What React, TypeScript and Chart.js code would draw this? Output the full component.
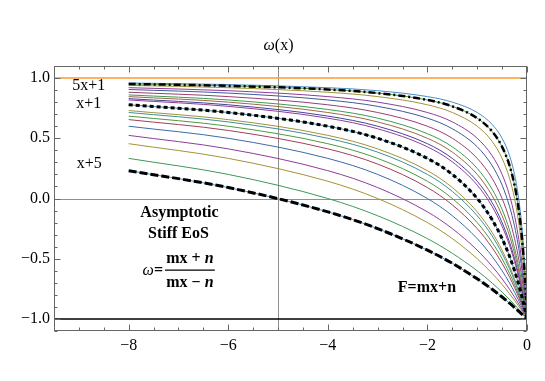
import React, { useEffect, useRef } from "react";
import { Chart, registerables } from "chart.js";

Chart.register(...registerables);

// ---------- data ----------
const xSamples = [-8, -6, -4, -3, -2, -1.5, -1, -0.7, -0.5, -0.35, -0.25, -0.18, -0.12, -0.08, -0.05, -0.025, 0];

// ω(x) for F = m x + n, one array per (m, n)
const w_1_5 = [0.231, 0.091, -0.111, -0.25, -0.429, -0.538, -0.667, -0.754, -0.818, -0.869, -0.905, -0.931, -0.953, -0.969, -0.98, -0.99, -1];
const w_1_4 = [0.333, 0.2, 0, -0.143, -0.333, -0.455, -0.6, -0.702, -0.778, -0.839, -0.882, -0.914, -0.942, -0.961, -0.975, -0.988, -1];
const w_1_3 = [0.455, 0.333, 0.143, 0, -0.2, -0.333, -0.5, -0.622, -0.714, -0.791, -0.846, -0.887, -0.923, -0.948, -0.967, -0.983, -1];
const w_2_5 = [0.524, 0.412, 0.231, 0.091, -0.111, -0.25, -0.429, -0.563, -0.667, -0.754, -0.818, -0.866, -0.908, -0.938, -0.961, -0.98, -1];
const w_1_2 = [0.6, 0.5, 0.333, 0.2, 0, -0.143, -0.333, -0.481, -0.6, -0.702, -0.778, -0.835, -0.887, -0.923, -0.951, -0.975, -1];
const w_3_5 = [0.655, 0.565, 0.412, 0.286, 0.091, -0.053, -0.25, -0.408, -0.538, -0.653, -0.739, -0.805, -0.866, -0.908, -0.942, -0.97, -1];
const w_2_3 = [0.684, 0.6, 0.455, 0.333, 0.143, 0, -0.2, -0.364, -0.5, -0.622, -0.714, -0.786, -0.852, -0.899, -0.935, -0.967, -1];
const w_3_4 = [0.714, 0.636, 0.5, 0.385, 0.2, 0.059, -0.143, -0.311, -0.455, -0.584, -0.684, -0.762, -0.835, -0.887, -0.928, -0.963, -1];
const w_4_5 = [0.73, 0.655, 0.524, 0.412, 0.231, 0.091, -0.111, -0.282, -0.429, -0.563, -0.667, -0.748, -0.825, -0.88, -0.923, -0.961, -1];
const w_1_1 = [0.778, 0.714, 0.6, 0.5, 0.333, 0.2, 0, -0.176, -0.333, -0.481, -0.6, -0.695, -0.786, -0.852, -0.905, -0.951, -1];
const w_5_4 = [0.818, 0.765, 0.667, 0.579, 0.429, 0.304, 0.111, -0.067, -0.231, -0.391, -0.524, -0.633, -0.739, -0.818, -0.882, -0.939, -1];
const w_4_3 = [0.829, 0.778, 0.684, 0.6, 0.455, 0.333, 0.143, -0.034, -0.2, -0.364, -0.5, -0.613, -0.724, -0.807, -0.875, -0.935, -1];
const w_3_2 = [0.846, 0.8, 0.714, 0.636, 0.5, 0.385, 0.2, 0.024, -0.143, -0.311, -0.455, -0.575, -0.695, -0.786, -0.86, -0.928, -1];
const w_5_3 = [0.86, 0.818, 0.739, 0.667, 0.538, 0.429, 0.25, 0.077, -0.091, -0.263, -0.412, -0.538, -0.667, -0.765, -0.846, -0.92, -1];
const w_2_1 = [0.882, 0.846, 0.778, 0.714, 0.6, 0.5, 0.333, 0.167, 0, -0.176, -0.333, -0.471, -0.613, -0.724, -0.818, -0.905, -1];
const w_5_2 = [0.905, 0.875, 0.818, 0.765, 0.667, 0.579, 0.429, 0.273, 0.111, -0.067, -0.231, -0.379, -0.538, -0.667, -0.778, -0.882, -1];
const w_3_1 = [0.92, 0.895, 0.846, 0.8, 0.714, 0.636, 0.5, 0.355, 0.2, 0.024, -0.143, -0.299, -0.471, -0.613, -0.739, -0.86, -1];
const w_4_1 = [0.939, 0.92, 0.882, 0.846, 0.778, 0.714, 0.6, 0.474, 0.333, 0.167, 0, -0.163, -0.351, -0.515, -0.667, -0.818, -1];
const w_5_1 = [0.951, 0.935, 0.905, 0.875, 0.818, 0.765, 0.667, 0.556, 0.429, 0.273, 0.111, -0.053, -0.25, -0.429, -0.6, -0.778, -1];
const w_6_1 = [0.959, 0.946, 0.92, 0.895, 0.846, 0.8, 0.714, 0.615, 0.5, 0.355, 0.2, 0.038, -0.163, -0.351, -0.538, -0.739, -1];

// reference lines ω = 1 and ω = -1
const refX = [-9.5, 0];
const upperLimit = [1, 1];
const lowerLimit = [-1, -1];

// axes
const xRange = [-9.5, 0];
const yRange = [-1.1, 1.1];
const xTickValues = [-8, -6, -4, -2, 0];
const yTickValues = [-1, -0.5, 0, 0.5, 1];
const axesOrigin = [-5, 0];

// ---------- styling ----------
const SERIF = "'Liberation Serif', 'Times New Roman', serif";
const F_R = `16px ${SERIF}`;
const F_B = `bold 16px ${SERIF}`;
const F_I = `italic 16px ${SERIF}`;
const F_BI = `italic bold 16px ${SERIF}`;

const colored: [number[], string][] = [
  [w_1_5, "#4a8fc4"],
  [w_1_4, "#3d9956"],
  [w_1_3, "#a39238"],
  [w_2_5, "#8f3d99"],
  [w_1_2, "#3d6aa9"],
  [w_3_5, "#a33d5c"],
  [w_2_3, "#4e993d"],
  [w_3_4, "#3d8f99"],
  [w_4_5, "#a39238"],
  [w_1_1, "#3d8aa9"],
  [w_5_4, "#8f3d99"],
  [w_4_3, "#43419f"],
  [w_3_2, "#9c6a3d"],
  [w_5_3, "#3d9956"],
  [w_2_1, "#993d71"],
  [w_5_2, "#3d5a99"],
  [w_3_1, "#8f3d99"],
  [w_4_1, "#a39238"],
  [w_5_1, "#4e993d"],
  [w_6_1, "#4a8fc4"],
];

const dashed: [number[], number[], number][] = [
  [w_5_1, [7, 3, 2, 3], 2.5],
  [w_1_1, [4, 3], 3],
  [w_1_5, [8, 3], 3],
];

type Run = { t: string; f: string };
type Note = { x: number; y: number; align?: "center" | "right" | "left"; runs: Run[] };

const notes: Note[] = [
  { x: -8.8, y: 0.935, runs: [{ t: "5x+1", f: F_R }] },
  { x: -8.8, y: 0.79, runs: [{ t: "x+1", f: F_R }] },
  { x: -8.79, y: 0.29, runs: [{ t: "x+5", f: F_R }] },
  { x: -6.98, y: -0.12, runs: [{ t: "Asymptotic", f: F_B }] },
  { x: -7.0, y: -0.29, runs: [{ t: "Stiff EoS", f: F_B }] },
  { x: -7.31, y: -0.6, align: "right", runs: [{ t: "ω", f: F_I }, { t: "=", f: F_B }] },
  { x: -6.77, y: -0.502, runs: [{ t: "mx + ", f: F_B }, { t: "n", f: F_BI }] },
  { x: -6.77, y: -0.704, runs: [{ t: "mx − ", f: F_B }, { t: "n", f: F_BI }] },
  { x: -2.01, y: -0.746, runs: [{ t: "F=mx+n", f: F_B }] },
];
const fractionBar = { x0: -7.27, x1: -6.27, y: -0.594 };

const toXY = (ys: number[], xs: number[] = xSamples) => xs.map((x, i) => ({ x, y: ys[i] }));
const fmt = (v: number, d: number) => v.toFixed(d).replace("-", "\u2212");

function drawRuns(ctx: CanvasRenderingContext2D, runs: Run[], cx: number, cy: number, align = "center") {
  let total = 0;
  const widths = runs.map((r) => {
    ctx.font = r.f;
    const w = ctx.measureText(r.t).width;
    total += w;
    return w;
  });
  let x = align === "center" ? cx - total / 2 : align === "right" ? cx - total : cx;
  ctx.textAlign = "left";
  ctx.textBaseline = "middle";
  runs.forEach((r, i) => {
    ctx.font = r.f;
    ctx.fillText(r.t, x, cy);
    x += widths[i];
  });
}

const overlayPlugin = {
  id: "overlay",
  beforeDatasetsDraw(chart: any) {
    const { ctx, chartArea: a, scales } = chart;
    const xs = scales.x, ys = scales.y;
    ctx.save();
    ctx.strokeStyle = "#8f8f8f";
    ctx.lineWidth = 1;
    const px = Math.round(xs.getPixelForValue(axesOrigin[0])) + 0.5;
    const py = Math.round(ys.getPixelForValue(axesOrigin[1])) + 0.5;
    ctx.beginPath();
    ctx.moveTo(px, a.top);
    ctx.lineTo(px, a.bottom);
    ctx.moveTo(a.left, py);
    ctx.lineTo(a.right, py);
    ctx.stroke();
    ctx.restore();
  },
  afterDatasetsDraw(chart: any) {
    const { ctx, chartArea: a, scales } = chart;
    const xs = scales.x, ys = scales.y;
    ctx.save();
    // frame
    ctx.strokeStyle = "#666";
    ctx.lineWidth = 1;
    const L = Math.round(a.left) + 0.5, R = Math.round(a.right) - 0.5;
    const T = Math.round(a.top) + 0.5, B = Math.round(a.bottom) - 0.5;
    ctx.strokeRect(L, T, R - L, B - T);
    // ticks (inward, on all four sides)
    ctx.beginPath();
    for (let k = -19; k <= 0; k++) {
      const v = k * 0.5;
      const major = xTickValues.includes(v);
      const len = major ? 6 : 3;
      const p = Math.round(xs.getPixelForValue(v)) + 0.5;
      ctx.moveTo(p, B); ctx.lineTo(p, B - len);
      ctx.moveTo(p, T); ctx.lineTo(p, T + len);
    }
    for (let k = -11; k <= 11; k++) {
      const v = Math.round(k) / 10;
      const major = yTickValues.some((t) => Math.abs(t - v) < 1e-9);
      const len = major ? 6 : 3;
      const p = Math.round(ys.getPixelForValue(v)) + 0.5;
      ctx.moveTo(L, p); ctx.lineTo(L + len, p);
      ctx.moveTo(R, p); ctx.lineTo(R - len, p);
    }
    ctx.stroke();
    // text notes
    ctx.fillStyle = "#000";
    notes.forEach((n) => {
      drawRuns(ctx, n.runs, xs.getPixelForValue(n.x), ys.getPixelForValue(n.y), n.align || "center");
    });
    ctx.strokeStyle = "#000";
    ctx.lineWidth = 1.3;
    ctx.beginPath();
    const by = ys.getPixelForValue(fractionBar.y);
    ctx.moveTo(xs.getPixelForValue(fractionBar.x0), by);
    ctx.lineTo(xs.getPixelForValue(fractionBar.x1), by);
    ctx.stroke();
    // title
    drawRuns(ctx, [{ t: "ω", f: F_I }, { t: "(x)", f: F_R }], chart.width / 2 + 6, 46, "center");
    ctx.restore();
  },
};

export default function App() {
  const ref = useRef<HTMLCanvasElement | null>(null);
  useEffect(() => {
    document.body.style.margin = "0";
    if (!ref.current) return;
    const datasets: any[] = [];
    dashed.forEach(([ys, dash, w]) =>
      datasets.push({
        data: toXY(ys),
        borderColor: "#000",
        borderWidth: w,
        borderDash: dash,
        pointRadius: 0,
        cubicInterpolationMode: "monotone",
        order: 0,
      })
    );
    datasets.push({ data: toXY(upperLimit, refX), borderColor: "#ff9a2e", borderWidth: 1.6, pointRadius: 0, order: 1 });
    datasets.push({ data: toXY(lowerLimit, refX), borderColor: "#000", borderWidth: 1.4, pointRadius: 0, order: 1 });
    colored.forEach(([ys, c]) =>
      datasets.push({
        data: toXY(ys),
        borderColor: c,
        borderWidth: 1,
        pointRadius: 0,
        cubicInterpolationMode: "monotone",
        order: 2,
      })
    );
    const chart = new Chart(ref.current, {
      type: "line",
      data: { datasets },
      plugins: [overlayPlugin],
      options: {
        animation: false,
        responsive: false,
        events: [],
        layout: { padding: { top: 66, right: 18, left: 0, bottom: 0 } },
        plugins: { legend: { display: false }, tooltip: { enabled: false }, title: { display: false } },
        scales: {
          x: {
            type: "linear",
            min: xRange[0],
            max: xRange[1],
            grid: { display: false, drawTicks: false },
            border: { display: false },
            afterBuildTicks: (s: any) => { s.ticks = xTickValues.map((v) => ({ value: v })); },
            afterFit: (s: any) => { s.height = 50; },
            ticks: {
              padding: 5,
              maxRotation: 0,
              autoSkip: false,
              color: "#000",
              font: { family: SERIF, size: 16 },
              callback: (v: any) => fmt(Number(v), 0),
            },
          },
          y: {
            type: "linear",
            min: yRange[0],
            max: yRange[1],
            grid: { display: false, drawTicks: false },
            border: { display: false },
            afterBuildTicks: (s: any) => { s.ticks = yTickValues.map((v) => ({ value: v })); },
            afterFit: (s: any) => { s.width = 54; },
            ticks: {
              padding: 4,
              autoSkip: false,
              color: "#000",
              font: { family: SERIF, size: 16 },
              callback: (v: any) => fmt(Number(v), 1),
            },
          },
        },
      },
    });
    return () => chart.destroy();
  }, []);
  return (
    <div style={{ position: "fixed", left: 0, top: 0, width: 545, height: 381, background: "#fff" }}>
      <canvas ref={ref} width={545} height={381} style={{ width: 545, height: 381 }} />
    </div>
  );
}
